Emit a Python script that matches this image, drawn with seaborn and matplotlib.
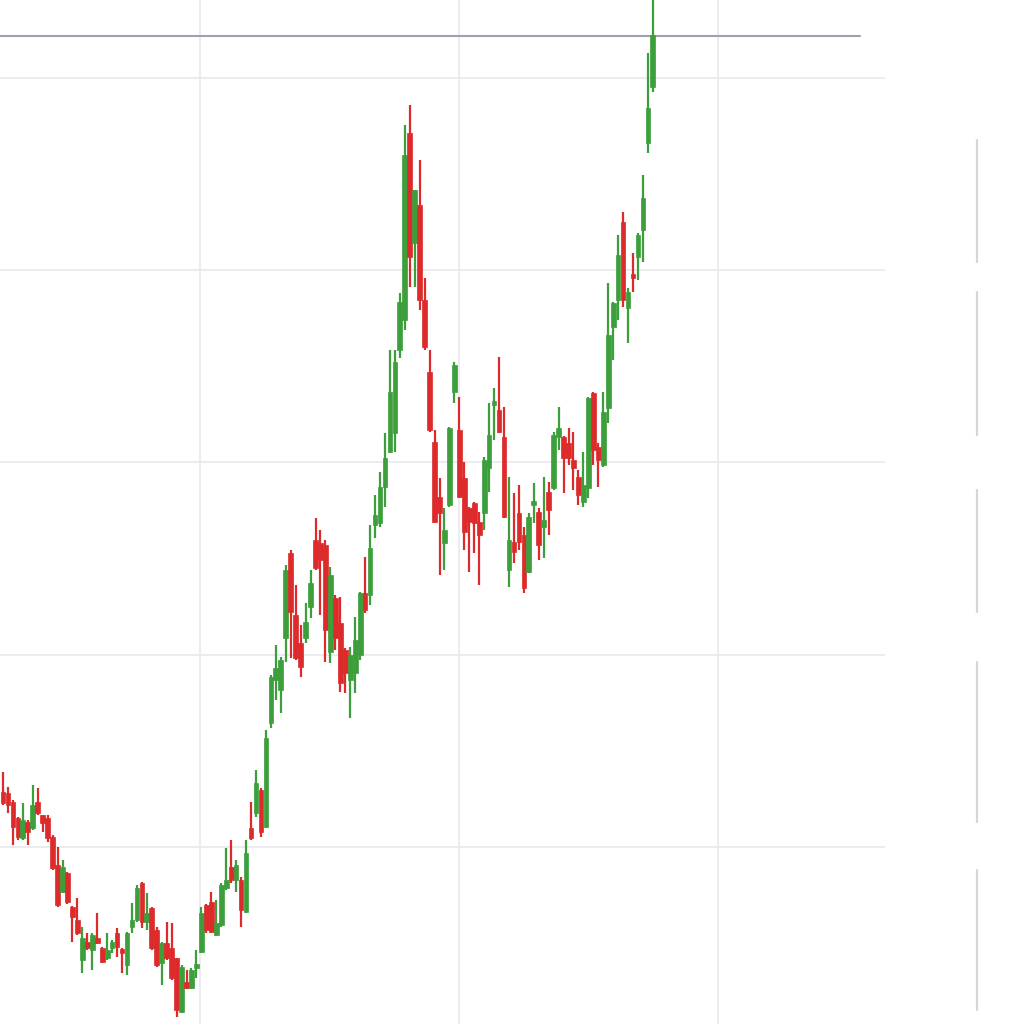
import numpy as np
import pandas as pd
import matplotlib
matplotlib.use("Agg")
import matplotlib.pyplot as plt
from matplotlib.lines import Line2D
import seaborn as sns

open_ = [232, 231, 222, 206, 186, 202, 196, 222, 209, 206, 187, 159, 132, 151, 117, 104, 64, 82, 74, 86,
         76, 66, 76, 91, 74, 59, 97, 104, 141, 102, 116, 94, 61, 81, 76, 66, 12, 42, 36, 56,
         72, 119, 122, 89, 99, 136, 157, 144, 144, 112, 196, 211, 234, 197, 301, 344, 334, 386, 471, 409,
         381, 386, 417, 484, 481, 479, 372, 426, 401, 374, 344, 351, 369, 431, 429, 499, 501, 537, 572, 591,
         674, 704, 891, 781, 819, 724, 652, 582, 527, 481, 519, 632, 594, 546, 516, 521, 502, 511, 556, 619,
         614, 587, 454, 482, 511, 489, 452, 519, 512, 497, 532, 536, 587, 587, 581, 564, 547, 522, 536, 631,
         577, 559, 616, 697, 724, 802, 716, 749, 767, 794, 881, 937]
high = [252, 237, 224, 207, 221, 204, 239, 236, 209, 209, 189, 177, 164, 152, 118, 126, 97, 91, 91, 111,
        77, 91, 84, 96, 76, 92, 121, 139, 142, 131, 117, 97, 82, 102, 101, 66, 59, 54, 56, 74,
        117, 120, 132, 124, 141, 176, 184, 164, 147, 184, 222, 254, 236, 294, 349, 379, 367, 459, 474, 439,
        399, 421, 454, 506, 494, 484, 457, 429, 427, 376, 377, 407, 432, 467, 499, 529, 552, 591, 674, 674,
        731, 899, 919, 834, 864, 746, 674, 594, 546, 516, 597, 662, 627, 562, 517, 522, 512, 567, 621, 636,
        667, 617, 547, 531, 539, 497, 511, 541, 516, 547, 542, 592, 617, 588, 596, 592, 554, 572, 627, 632,
        581, 632, 741, 722, 789, 812, 736, 771, 791, 849, 971, 1030]
low = [219, 211, 179, 184, 184, 179, 194, 209, 192, 182, 154, 117, 131, 120, 82, 89, 51, 74, 54, 80,
       61, 64, 71, 67, 51, 49, 91, 102, 96, 94, 74, 57, 39, 64, 44, 7, 11, 35, 35, 46,
       71, 91, 91, 88, 97, 134, 141, 132, 97, 111, 184, 207, 187, 196, 296, 324, 311, 362, 366, 364,
       347, 381, 406, 454, 409, 362, 361, 374, 332, 331, 306, 331, 364, 411, 419, 486, 497, 517, 571, 572,
       666, 694, 737, 737, 714, 674, 592, 501, 449, 454, 517, 621, 526, 474, 452, 471, 439, 494, 532, 584,
       591, 506, 437, 461, 474, 431, 451, 501, 464, 466, 489, 534, 574, 531, 559, 534, 519, 517, 526, 559,
       537, 557, 601, 664, 704, 717, 681, 732, 744, 762, 871, 932]
close = [221, 219, 197, 187, 204, 192, 219, 211, 201, 186, 156, 119, 157, 122, 107, 91, 86, 76, 89, 81,
         62, 74, 82, 77, 71, 91, 104, 136, 102, 111, 76, 59, 81, 66, 46, 14, 57, 36, 54, 59,
         111, 94, 92, 101, 139, 144, 144, 159, 114, 171, 186, 241, 192, 286, 347, 356, 364, 454, 412, 366,
         357, 402, 441, 456, 464, 394, 449, 386, 341, 351, 369, 384, 431, 414, 476, 509, 537, 566, 632, 662,
         722, 869, 767, 834, 724, 677, 594, 502, 511, 494, 596, 659, 527, 492, 502, 501, 489, 564, 589, 622,
         592, 507, 484, 472, 482, 436, 507, 522, 479, 504, 514, 589, 596, 566, 566, 556, 529, 539, 626, 574,
         564, 612, 689, 721, 769, 724, 732, 746, 789, 826, 916, 989]

grid_y = [177, 369, 562, 754, 946]
grid_x = [39.7, 91.9, 144.1]
last_price = 988

df = pd.DataFrame({"open": open_, "high": high, "low": low, "close": close})
df["idx"] = np.arange(len(df))
df["up"] = df["close"] >= df["open"]

sns.set_theme(style="white")

GREEN = "#3c9f3c"
RED = "#dd2a2a"

fig = plt.figure(figsize=(10.24, 10.24), dpi=100)
ax = fig.add_axes([0, 0, 885 / 1024, 1])

ax.set_xlim(-0.6, 177.8)
ax.set_ylim(0, 1024)
ax.set_xticks(grid_x)
ax.set_yticks(grid_y)
ax.grid(True, color="#e8e8ee", linewidth=1.2)
ax.set_xticklabels([])
ax.set_yticklabels([])
ax.tick_params(length=0)
for s in ax.spines.values():
    s.set_visible(False)

colors = np.where(df["up"], GREEN, RED)
ax.vlines(df["idx"], df["low"], df["high"], colors=colors, linewidth=1.6, zorder=3)
body_bottom = np.minimum(df["open"], df["close"])
body_h = np.maximum(np.abs(df["close"] - df["open"]), 4)
ax.bar(df["idx"], body_h, bottom=body_bottom, width=0.95, color=colors,
       edgecolor=colors, linewidth=0.5, zorder=4)

ax.axhline(last_price, xmin=0, xmax=860 / 885, color="#a0a0ae", linewidth=1.5, zorder=2)

# faint right-hand axis line
for y0, y1 in [(140, 262), (292, 435), (490, 612), (662, 822), (870, 1010)]:
    fig.add_artist(Line2D([977 / 1024, 977 / 1024], [1 - y0 / 1024, 1 - y1 / 1024],
                          color="#d6d6da", linewidth=1.6, transform=fig.transFigure))

fig.savefig("out.png", dpi=100)
